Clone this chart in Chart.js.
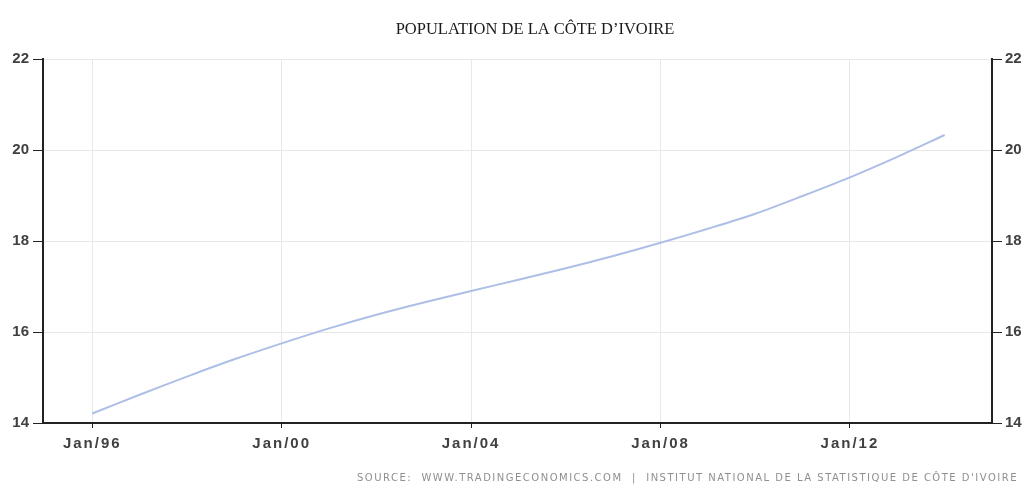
<!DOCTYPE html>
<html>
<head>
<meta charset="utf-8">
<script src="https://cdn.jsdelivr.net/npm/chart.js@4/dist/chart.umd.min.js"></script>
<style>
  html, body { margin: 0; padding: 0; background: #ffffff; }
  #wrap { width: 1026px; height: 495px; position: relative; }
</style>
</head>
<body>
<div id="wrap"><canvas id="c" width="1026" height="495"></canvas></div>
<script>
// ---- data ----
const years = [1996, 1997, 1998, 1999, 2000, 2001, 2002, 2003, 2004, 2005, 2006, 2007, 2008, 2009, 2010, 2011, 2012, 2013, 2014];
const population = [14.21, 14.62, 15.02, 15.40, 15.75, 16.08, 16.38, 16.65, 16.90, 17.15, 17.40, 17.67, 17.96, 18.27, 18.60, 18.99, 19.40, 19.85, 20.33];
const xTickYears = [1996, 2000, 2004, 2008, 2012];
const yTicks = [14, 16, 18, 20, 22];
const titleText = "POPULATION DE LA CÔTE D’IVOIRE";
const sourceText = "SOURCE:  WWW.TRADINGECONOMICS.COM  |  INSTITUT NATIONAL DE LA STATISTIQUE DE CÔTE D'IVOIRE";

const points = years.map((y, i) => ({ x: y, y: population[i] }));

const textPlugin = {
  id: 'texts',
  afterDraw(chart) {
    const ctx = chart.ctx;
    ctx.save();
    ctx.fillStyle = '#1a1a1a';
    ctx.font = '16.5px "Liberation Serif", "Times New Roman", serif';
    ctx.textAlign = 'center';
    ctx.textBaseline = 'middle';
    ctx.fillText(titleText, 535, 30);

    ctx.fillStyle = '#8f8f8f';
    ctx.font = '10px "DejaVu Sans", Verdana, sans-serif';
    ctx.textAlign = 'right';
    ctx.letterSpacing = '1.5px';
    ctx.fillText(sourceText, 1018, 478);
    ctx.restore();
  }
};

function patchLabels(scale, spacing) {
  if (scale._lsPatched) return;
  const orig = scale.drawLabels.bind(scale);
  scale.drawLabels = function (ca) {
    const c = this.ctx;
    c.save();
    c.letterSpacing = spacing;
    orig(ca);
    c.restore();
  };
  scale._lsPatched = true;
}

const tickFont = { family: '"Liberation Sans", Arial, sans-serif', size: 15, weight: 'bold' };

new Chart(document.getElementById('c'), {
  type: 'line',
  data: {
    datasets: [{
      data: points,
      borderColor: '#adbfe6',
      borderWidth: 2,
      pointRadius: 0,
      tension: 0.3,
      fill: false
    }]
  },
  options: {
    responsive: false,
    animation: false,
    devicePixelRatio: 1,
    layout: { padding: { top: 59, left: 0, right: 0, bottom: 0 } },
    plugins: { legend: { display: false }, title: { display: false }, tooltip: { enabled: false } },
    scales: {
      x: {
        type: 'linear',
        min: 1994.96,
        max: 2015.0,
        afterBuildTicks(scale) { scale.ticks = xTickYears.map(v => ({ value: v })); },
        afterFit(scale) { scale.height = 72; patchLabels(scale, '2px'); },
        ticks: {
          color: '#404040',
          font: tickFont,
          padding: 7,
          maxRotation: 0,
          autoSkip: false,
          callback: v => 'Jan/' + String(v % 100).padStart(2, '0')
        },
        grid: { color: '#e8e8e8', lineWidth: 1, tickColor: '#222', tickLength: 5, drawTicks: true },
        border: { color: '#222', width: 2 }
      },
      y: {
        position: 'left',
        min: 14,
        max: 22,
        afterBuildTicks(scale) { scale.ticks = yTicks.map(v => ({ value: v })); },
        afterFit(scale) { scale.width = 43; },
        ticks: { color: '#404040', font: tickFont, padding: 4 },
        grid: { color: '#e8e8e8', lineWidth: 1, tickColor: '#222', tickLength: 10 },
        border: { color: '#222', width: 2 }
      },
      y2: {
        position: 'right',
        min: 14,
        max: 22,
        afterBuildTicks(scale) { scale.ticks = yTicks.map(v => ({ value: v })); },
        afterFit(scale) { scale.width = 34; },
        ticks: { color: '#404040', font: tickFont, padding: 3 },
        grid: { drawOnChartArea: false, tickColor: '#222', tickLength: 10 },
        border: { color: '#222', width: 2 }
      }
    }
  },
  plugins: [textPlugin]
});
</script>
</body>
</html>
